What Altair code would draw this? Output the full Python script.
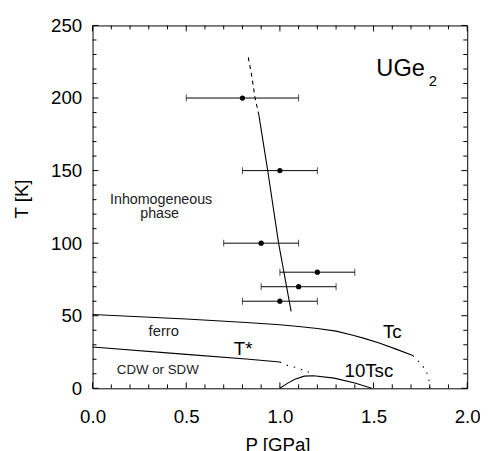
import altair as alt
import pandas as pd

# ---- data ----
# error-bar points (T in K, P in GPa)
pt_T = [200, 150, 100, 80, 70, 60]
pt_P = [0.80, 1.00, 0.90, 1.20, 1.10, 1.00]
pt_lo = [0.50, 0.80, 0.70, 1.00, 0.90, 0.80]
pt_hi = [1.10, 1.20, 1.10, 1.40, 1.30, 1.20]

# Tc line (solid) and its dotted continuation
tc_P = [0.0, 0.5, 0.82, 1.0, 1.1, 1.2, 1.3, 1.39, 1.45, 1.53, 1.62, 1.71]
tc_T = [50.8, 47.8, 45.4, 43.8, 42.6, 41.2, 39.4, 36.6, 34.4, 31.2, 27.0, 22.6]
tcd_P = [1.71, 1.75, 1.78, 1.795, 1.80]
tcd_T = [22.6, 17.1, 12.4, 6.3, 0.0]

# T* line (solid) and dotted continuation
ts_P = [0.0, 0.5, 0.82, 1.0]
ts_T = [28.5, 23.4, 20.2, 18.1]
tsd_P = [1.0, 1.04, 1.09, 1.155]
tsd_T = [18.1, 15.8, 14.2, 11.0]

# 10 Tsc dome
sc_P = [1.0, 1.04, 1.08, 1.13, 1.18, 1.29, 1.40, 1.49]
sc_T = [0.0, 3.4, 6.3, 8.4, 8.6, 7.0, 3.6, 0.0]

# boundary of inhomogeneous phase (solid) and dashed upper part
ih_P = [1.06, 0.993, 0.935, 0.888]
ih_T = [53, 100, 150, 188]
ihd_P = [0.888, 0.867, 0.85, 0.830]
ihd_T = [188, 200.5, 215, 229]

# axis ticks
x_major = [0.0, 0.5, 1.0, 1.5, 2.0]
x_minor = [0.1, 0.2, 0.3, 0.4, 0.6, 0.7, 0.8, 0.9, 1.1, 1.2, 1.3, 1.4,
           1.6, 1.7, 1.8, 1.9]
y_major = [0, 50, 100, 150, 200, 250]
y_minor = [10, 20, 30, 40, 60, 70, 80, 90, 110, 120, 130, 140, 160, 170,
           180, 190, 210, 220, 230, 240]

# ---- build ----
W, H = 381, 369
FONT = "Liberation Sans"

xs = alt.Scale(domain=[0, 2], nice=False, zero=False)
ys = alt.Scale(domain=[0, 250], nice=False, zero=False)

xaxis = alt.Axis(title="P [GPa]", values=x_major, format=".1f", ticks=False,
                 domain=False, grid=False, labelFont=FONT, labelFontSize=19,
                 labelColor="black", labelPadding=20, labelFlush=False,
                 labelOverlap=False, titleFont=FONT, titleFontSize=19,
                 titleFontWeight="normal", titleColor="black", titleX=188,
                 titleY=63, titleBaseline="alphabetic", titleAlign="center")
yaxis = alt.Axis(title="T [K]", values=y_major, format="d", ticks=False,
                 domain=False, grid=False, labelFont=FONT, labelFontSize=19,
                 labelColor="black", labelPadding=11, labelFlush=False,
                 labelOverlap=False, titleFont=FONT, titleFontSize=19,
                 titleFontWeight="normal", titleColor="black", titleAngle=270,
                 titleX=-72, titleY=176, titleBaseline="middle",
                 titleAlign="center")


def X(f):
    return alt.X(f, type="quantitative", scale=xs, axis=xaxis)


def Y(f):
    return alt.Y(f, type="quantitative", scale=ys, axis=yaxis)


def curve(name, P, T):
    return pd.DataFrame({"s": name, "i": range(len(P)), "P": P, "T": T})


solid = pd.concat([curve("tc", tc_P, tc_T), curve("ts", ts_P, ts_T),
                   curve("sc", sc_P, sc_T), curve("ih", ih_P, ih_T)])
dotted = pd.concat([curve("tcd", tcd_P, tcd_T), curve("tsd", tsd_P, tsd_T)])
dashed = curve("ihd", ihd_P, ihd_T)

line_enc = dict(x=X("P"), y=Y("T"), detail="s:N", order="i:Q")
l_solid = alt.Chart(solid).mark_line(color="black", strokeWidth=1.1).encode(**line_enc)
l_dot = alt.Chart(dotted).mark_line(color="black", strokeWidth=1.1,
                                    strokeDash=[1.5, 6]).encode(**line_enc)
l_dash = alt.Chart(dashed).mark_line(color="black", strokeWidth=1.1,
                                     strokeDash=[4, 4]).encode(**line_enc)

pts = pd.DataFrame({"T": pt_T, "P": pt_P, "lo": pt_lo, "hi": pt_hi})
bars = alt.Chart(pts).mark_rule(color="black", strokeWidth=1).encode(
    x=X("lo"), x2="hi", y=Y("T"))
cap_lo = alt.Chart(pts).mark_tick(color="black", orient="vertical", size=7,
                                  thickness=1).encode(x=X("lo"), y=Y("T"))
cap_hi = alt.Chart(pts).mark_tick(color="black", orient="vertical", size=7,
                                  thickness=1).encode(x=X("hi"), y=Y("T"))
dots = alt.Chart(pts).mark_circle(color="black", size=28, opacity=1).encode(
    x=X("P"), y=Y("T"))


# inward ticks on all four sides
def xticks(vals, ln):
    d = pd.DataFrame({"v": vals})
    b = alt.Chart(d).mark_rule(color="black", strokeWidth=1).encode(
        x=X("v"), y=alt.value(H), y2=alt.value(H - ln))
    t = alt.Chart(d).mark_rule(color="black", strokeWidth=1).encode(
        x=X("v"), y=alt.value(0), y2=alt.value(ln))
    return [b, t]


def yticks(vals, ln):
    d = pd.DataFrame({"v": vals})
    l = alt.Chart(d).mark_rule(color="black", strokeWidth=1).encode(
        y=Y("v"), x=alt.value(0), x2=alt.value(ln))
    r = alt.Chart(d).mark_rule(color="black", strokeWidth=1).encode(
        y=Y("v"), x=alt.value(W), x2=alt.value(W - ln))
    return [l, r]


ticks = xticks(x_major, 6) + xticks(x_minor, 4) + yticks(y_major, 6) + yticks(y_minor, 4)


def label(txt, p, t, size, align="left", color="black"):
    return alt.Chart(pd.DataFrame({"a": [0]})).mark_text(
        text=txt, font=FONT, fontSize=size, align=align, baseline="alphabetic",
        color=color).encode(x=alt.datum(p), y=alt.datum(t))


labels = [
    label("UGe", 1.515, 215.2, 24),
    label("2", 1.795, 208.0, 15),
    label("Inhomogeneous", 0.366, 127.2, 14.5, "center", "#222222"),
    label("phase", 0.358, 117.3, 14.5, "center", "#222222"),
    label("ferro", 0.38, 35.7, 15, "center", "#222222"),
    label("CDW or SDW", 0.348, 9.7, 13.5, "center", "#222222"),
    label("T*", 0.754, 23.2, 19),
    label("Tc", 1.55, 34.6, 19),
    label("10Tsc", 1.345, 7.5, 19),
]

chart = alt.layer(*ticks, l_solid, l_dot, l_dash, bars, cap_lo, cap_hi, dots,
                  *labels).properties(
    width=W, height=H, autosize="none",
    padding={"left": 86, "top": 14, "right": 13, "bottom": 60},
    background="white",
).configure_view(stroke="black", strokeWidth=1)

chart.save("out.html", embed_options={"renderer": "svg", "actions": False})
